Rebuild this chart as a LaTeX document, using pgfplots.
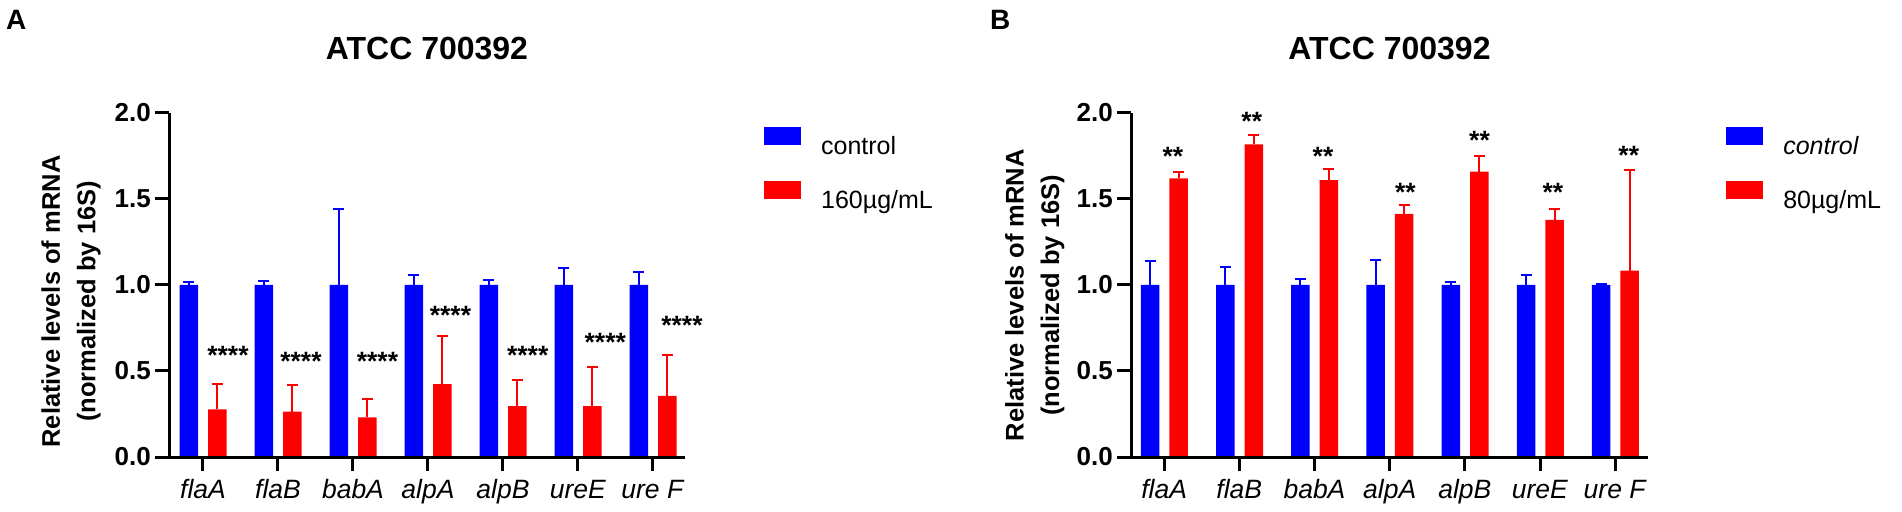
\documentclass[border=0pt]{standalone}
\usepackage{pgfplots}
\pgfplotsset{compat=1.18}
\usepackage{fontspec}
\setmainfont{Liberation Sans}
\definecolor{cblue}{RGB}{0,0,255}
\definecolor{cred}{RGB}{255,0,0}
\newcommand{\fs}[2][]{\fontsize{#2}{#2}\selectfont}
\tikzset{stars/.style={anchor=base, inner sep=0pt, font=\fs{26.5}\bfseries}}
\pgfplotsset{
  panel/.style={
    scale only axis, height=344pt,
    ybar, bar width=18.5pt,
    ymin=0, ymax=2,
    axis x line*=bottom, axis y line*=left,
    axis line style={line width=3pt, black},
    axis on top, clip=false,
    ytick={0,0.5,1,1.5,2}, yticklabels={0.0,0.5,1.0,1.5,2.0},
    xtick={0,1,2,3,4,5,6},
    xticklabels={\textit{flaA},\textit{flaB},\textit{babA},\textit{alpA},\textit{alpB},\textit{ureE},\textit{ure F}},
    tick align=outside, major tick length=14pt,
    tick style={line width=3pt, black},
    yticklabel style={font=\fs{26}\bfseries, inner sep=0pt, anchor=east, xshift=-4pt},
    xticklabel style={font=\fs{26.5}, inner sep=0pt, anchor=base, yshift=-27pt},
    title style={at={(0.5,1)}, anchor=base, yshift=47pt, inner sep=0pt, font=\fs{32}\bfseries},
    ylabel style={font=\fontsize{25.5}{35.5}\selectfont\bfseries, align=center, inner sep=0pt, anchor=center},
    legend style={draw=none, fill=none, inner sep=0pt, anchor=north west,
      font=\fs{25}, row sep=27pt, column sep=20pt,
      nodes={inner sep=0pt, text depth=0pt}},
    legend cell align=left,
    legend image code/.code={\fill[##1, draw=none] (0pt,0pt) rectangle (37pt,18pt);},
  },
  bluebar/.style={fill=cblue, draw=none, bar shift=-14pt,
    error bars/.cd, y dir=plus, y explicit,
    error bar style={line width=2pt, cblue},
    error mark options={rotate=90, mark size=5.5pt, line width=2pt, cblue}},
  redbar/.style={fill=cred, draw=none, bar shift=14.5pt,
    error bars/.cd, y dir=plus, y explicit,
    error bar style={line width=2pt, cred},
    error mark options={rotate=90, mark size=5.5pt, line width=2pt, cred}},
}
\begin{document}
\begin{tikzpicture}[x=1pt,y=1pt]
\useasboundingbox (0,0) rectangle (1902,511);
\node[anchor=base west, inner sep=0pt, font=\fs{28}\bfseries] at (6,481) {A};
\node[anchor=base west, inner sep=0pt, font=\fs{28}\bfseries] at (990,481) {B};

\begin{axis}[panel, width=516pt, at={(169pt,54pt)}, anchor=south west,
  xmin=-0.453, xmax=6.427,
  title={ATCC 700392},
  ylabel={Relative levels of mRNA\\(normalized by 16S)},
  ylabel style={at={(axis description cs:-0.190,0.452)}},
  legend style={at={(rel axis cs:1.153,0.959)}}]
\addplot[bluebar] coordinates {
  (0,1) +- (0,0.016) (1,1) +- (0,0.023) (2,1) +- (0,0.442) (3,1) +- (0,0.058)
  (4,1) +- (0,0.029) (5,1) +- (0,0.097) (6,1) +- (0,0.078)};
\addlegendentry{control}
\addplot[redbar] coordinates {
  (0,0.277) +- (0,0.146) (1,0.264) +- (0,0.155) (2,0.231) +- (0,0.104) (3,0.423) +- (0,0.280)
  (4,0.296) +- (0,0.152) (5,0.296) +- (0,0.225) (6,0.355) +- (0,0.236)};
\addlegendentry{160µg/mL}
\node[stars] at (axis cs:0.333,0.535) {****};
\node[stars] at (axis cs:1.307,0.500) {****};
\node[stars] at (axis cs:2.327,0.500) {****};
\node[stars] at (axis cs:3.300,0.772) {****};
\node[stars] at (axis cs:4.330,0.535) {****};
\node[stars] at (axis cs:5.364,0.613) {****};
\node[stars] at (axis cs:6.387,0.715) {****};
\end{axis}

\begin{axis}[panel, width=517pt, at={(1131pt,54pt)}, anchor=south west,
  xmin=-0.44, xmax=6.436,
  title={ATCC 700392},
  ylabel={Relative levels of mRNA\\(normalized by 16S)},
  ylabel style={at={(axis description cs:-0.186,0.47)}},
  legend style={at={(rel axis cs:1.151,0.959)}}]
\addplot[bluebar] coordinates {
  (0,1) +- (0,0.140) (1,1) +- (0,0.103) (2,1) +- (0,0.033) (3,1) +- (0,0.143)
  (4,1) +- (0,0.017) (5,1) +- (0,0.060) (6,1) +- (0,0.004)};
\addlegendentry{\textit{control}}
\addplot[redbar] coordinates {
  (0,1.620) +- (0,0.039) (1,1.818) +- (0,0.054) (2,1.610) +- (0,0.062) (3,1.413) +- (0,0.054)
  (4,1.659) +- (0,0.093) (5,1.378) +- (0,0.066) (6,1.083) +- (0,0.586)};
\addlegendentry{80µg/mL}
\node[stars] at (axis cs:0.116,1.692) {**};
\node[stars] at (axis cs:1.166,1.901) {**};
\node[stars] at (axis cs:2.114,1.694) {**};
\node[stars] at (axis cs:3.209,1.485) {**};
\node[stars] at (axis cs:4.195,1.785) {**};
\node[stars] at (axis cs:5.170,1.485) {**};
\node[stars] at (axis cs:6.180,1.698) {**};
\end{axis}
\end{tikzpicture}
\end{document}
